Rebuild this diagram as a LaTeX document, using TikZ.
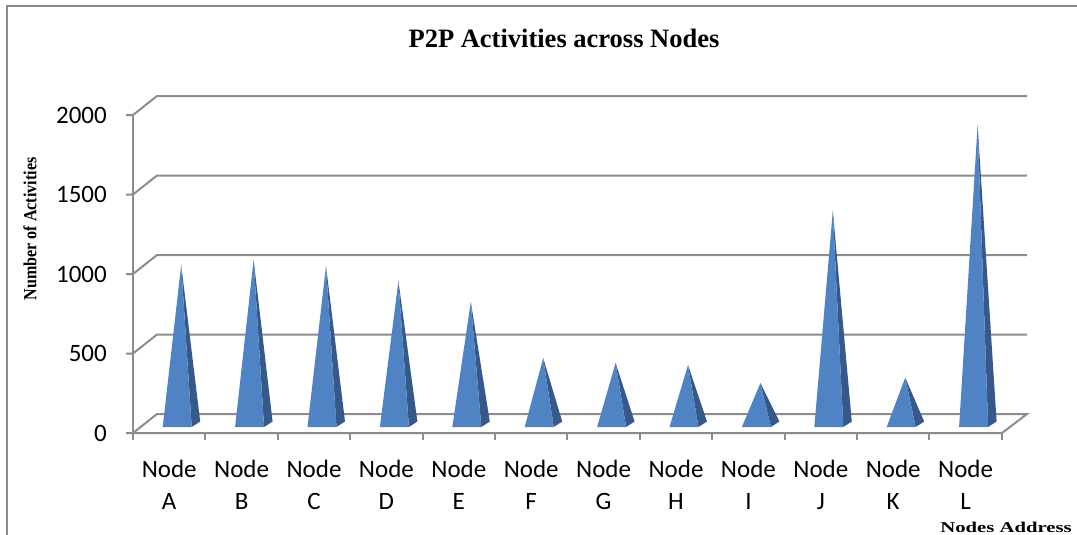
\documentclass[tikz,border=0pt]{standalone}
\usepackage{fontspec}
\setmainfont{Liberation Serif}
\newfontfamily\calfont{Carlito}
\usetikzlibrary{calc}
\definecolor{gridgray}{HTML}{8C8C8C}
\definecolor{framegray}{HTML}{8A8A8A}
\definecolor{pyrfront}{HTML}{4F83C4}
\definecolor{pyrside}{HTML}{37598A}
\tikzset{
  gridline/.style={draw=gridgray, line width=2pt},
  axisline/.style={draw=gridgray, line width=2pt},
  ticklabel/.style={font=\calfont\fontsize{25}{30}\selectfont, anchor=east, inner sep=0pt},
  catlabel/.style={font=\calfont\fontsize{25}{30}\selectfont, inner sep=0pt, align=center},
  frontface/.style={fill=pyrfront, draw=none},
  sideface/.style={fill=pyrside, draw=none},
}
\begin{document}
\begin{tikzpicture}[x=1pt,y=-1pt]
\useasboundingbox (0,0) rectangle (1077,535);
% outer frame (left and top visible)
\draw[framegray, line width=1.5pt] (7,535) -- (7,6) -- (1077,6);
% title
\node[font=\bfseries\fontsize{26.5}{30}\selectfont, inner sep=0pt] (title) at (564,38) {P2P Activities across Nodes};
% y-axis label
\node[rotate=90, font=\bfseries\fontsize{18.5}{20}\selectfont, inner sep=0pt] (ylabel) at (30,229) {\scalebox{0.87}[1]{Number of Activities}};
% x-axis title
\node[font=\bfseries\fontsize{15}{18}\selectfont, inner sep=0pt] (xlabel) at (1006,527) {\scalebox{1.38}[1]{Nodes Address}};
% back gridlines
\foreach \v in {500,1000,1500,2000}{
  \pgfmathsetmacro{\yf}{433-\v*0.159}
  \draw[gridline] (126,\yf) -- (133,\yf) -- (157,\yf-19) -- (1027,\yf-19);
}
% floor
\draw[gridline] (126,433) -- (1002,433) -- (1027,414) -- (157,414) -- (133,433);
% vertical axis
\draw[axisline] (133,115) -- (133,440);
% bottom ticks
\foreach \k in {1,...,12}{
  \draw[axisline] ({133+72.4*\k},433) -- ({133+72.4*\k},440);
}
% tick labels
\foreach \v/\nm in {0/t0,500/t1,1000/t2,1500/t3,2000/t4}{
  \node[ticklabel] (\nm) at (107,{433-\v*0.159}) {\v};
}
% pyramids
\foreach \i/\val/\lab in {0/1003/A,1/1035/B,2/997/C,3/903/D,4/771/E,5/418/F,6/387/G,7/374/H,8/261/I,9/1343/J,10/295/K,11/1884/L}{
  \pgfmathsetmacro{\cx}{133+72.4*(\i+0.5)+12}
  \pgfmathsetmacro{\ay}{424.5-\val*0.159}
  \coordinate (apex\lab) at (\cx,\ay);
  \coordinate (fl\lab) at (\cx-18.5,427);
  \coordinate (fr\lab) at (\cx+10.5,427);
  \coordinate (br\lab) at (\cx+19,421.5);
  \fill[sideface] (fr\lab) -- (br\lab) -- (apex\lab) -- cycle;
  \fill[frontface] (fl\lab) -- (fr\lab) -- (apex\lab) -- cycle;
  \node[catlabel] (cat\lab) at ({133+72.4*(\i+0.5)},485) {Node\\[2pt]\lab};
}
\end{tikzpicture}
\end{document}
